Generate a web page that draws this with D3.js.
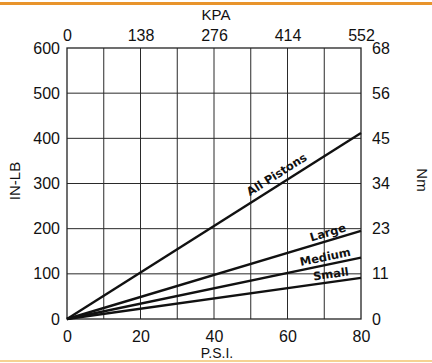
<!DOCTYPE html>
<html><head><meta charset="utf-8">
<script src="https://cdn.jsdelivr.net/npm/d3@7"></script>
<style>html,body{margin:0;padding:0;background:#fff;}svg{display:block;}</style>
</head><body>
<script>
// Data
const psiTicks = [0, 20, 40, 60, 80];
const kpaTickLabels = ["0", "138", "276", "414", "552"];
const inlbTicks = [0, 100, 200, 300, 400, 500, 600];
const nmTickLabels = ["0", "11", "23", "34", "45", "56", "68"];
const seriesNames = ["All Pistons", "Large", "Medium", "Small"];
const seriesPsi = [0, 80];
const seriesAllPistons = [0, 412];
const seriesLarge = [0, 195];
const seriesMedium = [0, 136];
const seriesSmall = [0, 91];
const labelPsi = [58.5, 71.6, 70.7, 72.1];

const W = 432, H = 363;
const m = {left: 67, right: 71, top: 48, bottom: 44};
const svg = d3.select("body").append("svg").attr("width", W).attr("height", H);

// orange frame lines
svg.append("rect").attr("x",0).attr("y",2).attr("width",W).attr("height",3).attr("fill","#E8942C");
svg.append("rect").attr("x",0).attr("y",360).attr("width",W).attr("height",2).attr("fill","#F5D292");

const x = d3.scaleLinear().domain([0,80]).range([m.left, W - m.right]);
const y = d3.scaleLinear().domain([0,600]).range([H - m.bottom, m.top]);

const font = "'Liberation Sans', Arial, sans-serif";

// grid
const g = svg.append("g");
g.selectAll("line.v").data(d3.range(10, 80, 10)).join("line")
  .attr("x1", d=>x(d)).attr("x2", d=>x(d)).attr("y1", y(0)).attr("y2", y(600))
  .attr("stroke", "#2a2a2a").attr("stroke-width", 1);
g.selectAll("line.h").data(d3.range(100, 600, 100)).join("line")
  .attr("y1", d=>y(d)).attr("y2", d=>y(d)).attr("x1", x(0)).attr("x2", x(80))
  .attr("stroke", "#2a2a2a").attr("stroke-width", 1);
g.append("rect").attr("x", x(0)).attr("y", y(600)).attr("width", x(80)-x(0)).attr("height", y(0)-y(600))
  .attr("fill","none").attr("stroke","#222").attr("stroke-width",1.3);

// axes (labels only)
function styleAxis(sel){
  sel.select(".domain").remove();
  sel.selectAll(".tick line").remove();
  sel.selectAll("text").attr("font-family", font).attr("font-size", 16).attr("fill","#111");
}
svg.append("g").attr("transform",`translate(0,${y(0)})`)
  .call(d3.axisBottom(x).tickValues(psiTicks).tickSize(0).tickPadding(12))
  .call(styleAxis);
svg.append("g").attr("transform",`translate(0,${y(600)})`)
  .call(d3.axisTop(x).tickValues(psiTicks).tickSize(0).tickPadding(7).tickFormat((d,i)=>kpaTickLabels[i]))
  .call(styleAxis);
svg.append("g").attr("transform",`translate(${x(0)},0)`)
  .call(d3.axisLeft(y).tickValues(inlbTicks).tickSize(0).tickPadding(7))
  .call(styleAxis);
svg.append("g").attr("transform",`translate(${x(80)},0)`)
  .call(d3.axisRight(y).tickValues(inlbTicks).tickSize(0).tickPadding(11).tickFormat((d,i)=>nmTickLabels[i]))
  .call(styleAxis);

// axis titles
svg.append("text").attr("x", 216).attr("y", 20).attr("text-anchor","middle")
  .attr("font-family", font).attr("font-size", 15).attr("fill","#111").text("KPA");
svg.append("text").attr("x", 217).attr("y", 358).attr("text-anchor","middle")
  .attr("font-family", font).attr("font-size", 14).attr("fill","#111").text("P.S.I.");
svg.append("text").attr("transform","translate(20,181) rotate(-90)").attr("text-anchor","middle")
  .attr("font-family", font).attr("font-size", 15).attr("fill","#111").text("IN-LB");
svg.append("text").attr("transform","translate(417,180) rotate(90)").attr("text-anchor","middle")
  .attr("font-family", font).attr("font-size", 15).attr("fill","#111").text("Nm");

// series
const seriesVals = [seriesAllPistons, seriesLarge, seriesMedium, seriesSmall];
const line = d3.line().x(d=>x(d[0])).y(d=>y(d[1]));
seriesVals.forEach((vals, i) => {
  const pts = seriesPsi.map((p, j) => [p, vals[j]]);
  svg.append("path").attr("d", line(pts)).attr("fill","none").attr("stroke","#111").attr("stroke-width",2.4);
  const slope = vals[1] / seriesPsi[1];
  const lp = labelPsi[i];
  const px = x(lp), py = y(lp*slope);
  const ang = Math.atan2(y(80*slope) - y(0), x(80) - x(0)) * 180 / Math.PI;
  const off = i === 0 ? -6 : -4;
  svg.append("text").attr("transform", `translate(${px},${py}) rotate(${ang}) translate(0,${off})`)
    .attr("text-anchor","middle").attr("font-family", "'DejaVu Sans', sans-serif").attr("font-weight","bold")
    .attr("font-size", 11.5).attr("fill","#111").text(seriesNames[i]);
});
</script>
</body></html>
